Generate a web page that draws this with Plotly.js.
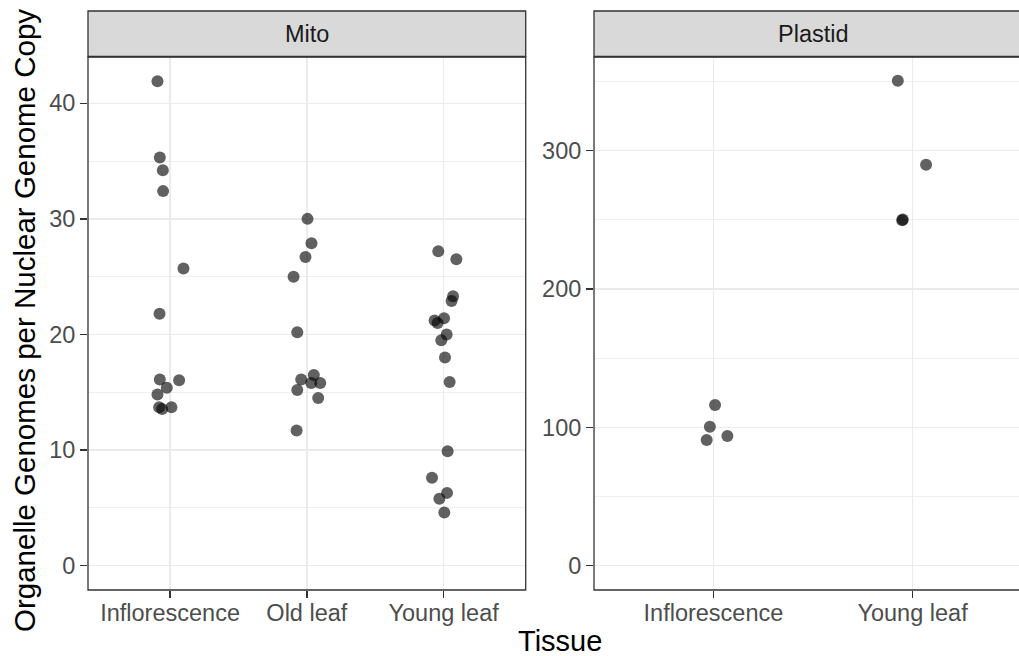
<!DOCTYPE html>
<html>
<head>
<meta charset="utf-8">
<script src="https://cdn.plot.ly/plotly-3.0.1.min.js"></script>
<style>html,body{margin:0;padding:0;background:#fff;}#chart{width:1019px;height:656px;}</style>
</head>
<body>
<div id="chart"></div>
<script>
// ---- data ----
const mitoCategories = ["Inflorescence", "Old leaf", "Young leaf"];
const plastidCategories = ["Inflorescence", "Young leaf"];

const mitoInflorescence = [41.9, 35.3, 34.2, 32.4, 25.7, 21.8, 16.1, 16.05, 15.4, 14.8, 13.7, 13.55, 13.7];
const mitoInflorescenceJitter = [-0.092, -0.075, -0.053, -0.051, 0.098, -0.077, -0.075, 0.066, -0.024, -0.092, -0.080, -0.058, 0.010];

const mitoOldLeaf = [30.0, 27.9, 26.7, 25.0, 20.2, 16.1, 16.5, 15.8, 15.8, 15.2, 14.5, 11.7];
const mitoOldLeafJitter = [0.005, 0.034, -0.010, -0.097, -0.070, -0.041, 0.051, 0.032, 0.098, -0.070, 0.083, -0.075];

const mitoYoungLeaf = [27.2, 26.5, 23.3, 22.9, 21.2, 21.4, 21.0, 20.0, 19.5, 18.0, 15.9, 9.9, 7.6, 6.3, 5.8, 4.6];
const mitoYoungLeafJitter = [-0.039, 0.093, 0.069, 0.058, -0.066, 0.003, -0.044, 0.022, -0.017, 0.010, 0.044, 0.029, -0.085, 0.025, -0.031, 0.005];

const plastidInflorescence = [116.1, 100.4, 90.8, 93.7];
const plastidInflorescenceJitter = [0.008, -0.018, -0.034, 0.070];

const plastidYoungLeaf = [350.4, 289.6, 250.2, 249.6];
const plastidYoungLeafJitter = [-0.074, 0.068, -0.049, -0.052];

const mitoTicks = [0, 10, 20, 30, 40];
const plastidTicks = [0, 100, 200, 300];

// ---- layout helpers ----
const W = 1019, H = 656;
const px = v => v / W;
const py = v => 1 - v / H;
const FONT = '"Liberation Sans", Arial, Helvetica, sans-serif';
const pointColor = 'rgba(0,0,0,0.62)';

function group(values, jitter, catIndex, xa, ya) {
  return {
    type: 'scatter', mode: 'markers',
    x: values.map((_, i) => catIndex + jitter[i]),
    y: values,
    xaxis: xa, yaxis: ya,
    marker: {size: 12, color: pointColor, line: {width: 0}},
    showlegend: false, hoverinfo: 'y'
  };
}

const traces = [
  group(mitoInflorescence, mitoInflorescenceJitter, 1, 'x', 'y'),
  group(mitoOldLeaf, mitoOldLeafJitter, 2, 'x', 'y'),
  group(mitoYoungLeaf, mitoYoungLeafJitter, 3, 'x', 'y'),
  group(plastidInflorescence, plastidInflorescenceJitter, 1, 'x2', 'y2'),
  group(plastidYoungLeaf, plastidYoungLeafJitter, 2, 'x2', 'y2')
];

const panelTop = 57, panelBottom = 590;
const stripTop = 11, stripBottom = 56.5;
const mitoL = 88, mitoR = 525.7, plL = 594, plR = 1032;

const gridC = '#EBEBEB';
const tickFont = {family: FONT, size: 23.5, color: '#4D4D4D'};

function xAxis(domain, range, cats, anchor) {
  return {
    domain: domain, range: range, anchor: anchor,
    tickmode: 'array', tickvals: cats.map((_, i) => i + 1), ticktext: cats,
    showgrid: true, gridcolor: gridC, gridwidth: 1.4,
    ticks: 'outside', ticklen: 7, tickwidth: 1.3, tickcolor: '#333333',
    tickfont: tickFont, ticklabelstandoff: -5,
    zeroline: false, showline: false, fixedrange: true
  };
}
function yAxis(domain, range, ticks, minorStep, anchor) {
  return {
    domain: domain, range: range, anchor: anchor,
    tickmode: 'array', tickvals: ticks, ticktext: ticks.map(String),
    showgrid: true, gridcolor: gridC, gridwidth: 1.4,
    minor: {tickmode: 'linear', tick0: 0, dtick: minorStep, showgrid: true, gridcolor: gridC, gridwidth: 0.8, ticks: ''},
    ticks: 'outside', ticklen: 7, tickwidth: 1.3, tickcolor: '#333333',
    tickfont: tickFont, zeroline: false, showline: false, fixedrange: true
  };
}

const yDom = [py(panelBottom), py(panelTop)];

const layout = {
  width: W, height: H,
  margin: {l: 0, r: 0, t: 0, b: 0},
  paper_bgcolor: '#ffffff', plot_bgcolor: '#ffffff',
  font: {family: FONT},
  showlegend: false,
  xaxis: xAxis([px(mitoL), px(mitoR)], [0.4, 3.6], mitoCategories, 'y'),
  yaxis: yAxis(yDom, [-2.1, 44.0], mitoTicks, 5, 'x'),
  xaxis2: xAxis([px(plL), 1], [0.4, 0.4 + 2.2 * (W - plL) / (plR - plL)], plastidCategories, 'y2'),
  yaxis2: yAxis(yDom, [-17.5, 367.5], plastidTicks, 50, 'x2'),
  shapes: [
    {type: 'rect', xref: 'paper', yref: 'paper', x0: px(mitoL), x1: px(mitoR), y0: py(panelBottom), y1: py(panelTop), line: {color: '#333333', width: 1.3}, fillcolor: 'rgba(0,0,0,0)', layer: 'above'},
    {type: 'rect', xref: 'paper', yref: 'paper', x0: px(plL), x1: px(plR), y0: py(panelBottom), y1: py(panelTop), line: {color: '#333333', width: 1.3}, fillcolor: 'rgba(0,0,0,0)', layer: 'above'},
    {type: 'rect', xref: 'paper', yref: 'paper', x0: px(mitoL), x1: px(mitoR), y0: py(stripBottom), y1: py(stripTop), line: {color: '#333333', width: 1.3}, fillcolor: '#D9D9D9', layer: 'above'},
    {type: 'rect', xref: 'paper', yref: 'paper', x0: px(plL), x1: px(plR), y0: py(stripBottom), y1: py(stripTop), line: {color: '#333333', width: 1.3}, fillcolor: '#D9D9D9', layer: 'above'}
  ],
  annotations: [
    {text: 'Mito', xref: 'paper', yref: 'paper', x: px((mitoL + mitoR) / 2), y: py((stripTop + stripBottom) / 2), xanchor: 'center', yanchor: 'middle', showarrow: false, font: {family: FONT, size: 23.5, color: '#1A1A1A'}},
    {text: 'Plastid', xref: 'paper', yref: 'paper', x: px((plL + plR) / 2), y: py((stripTop + stripBottom) / 2), xanchor: 'center', yanchor: 'middle', showarrow: false, font: {family: FONT, size: 23.5, color: '#1A1A1A'}},
    {text: 'Tissue', xref: 'paper', yref: 'paper', x: px((mitoL + plR) / 2), y: 0, yshift: -3, xanchor: 'center', yanchor: 'bottom', showarrow: false, font: {family: FONT, size: 29, color: '#000000'}},
    {text: 'Organelle Genomes per Nuclear Genome Copy', xref: 'paper', yref: 'paper', x: px(25), y: py(321), xanchor: 'center', yanchor: 'middle', textangle: -90, showarrow: false, font: {family: FONT, size: 29.5, color: '#000000'}}
  ]
};

Plotly.newPlot('chart', traces, layout, {displayModeBar: false, staticPlot: true});
</script>
</body>
</html>
